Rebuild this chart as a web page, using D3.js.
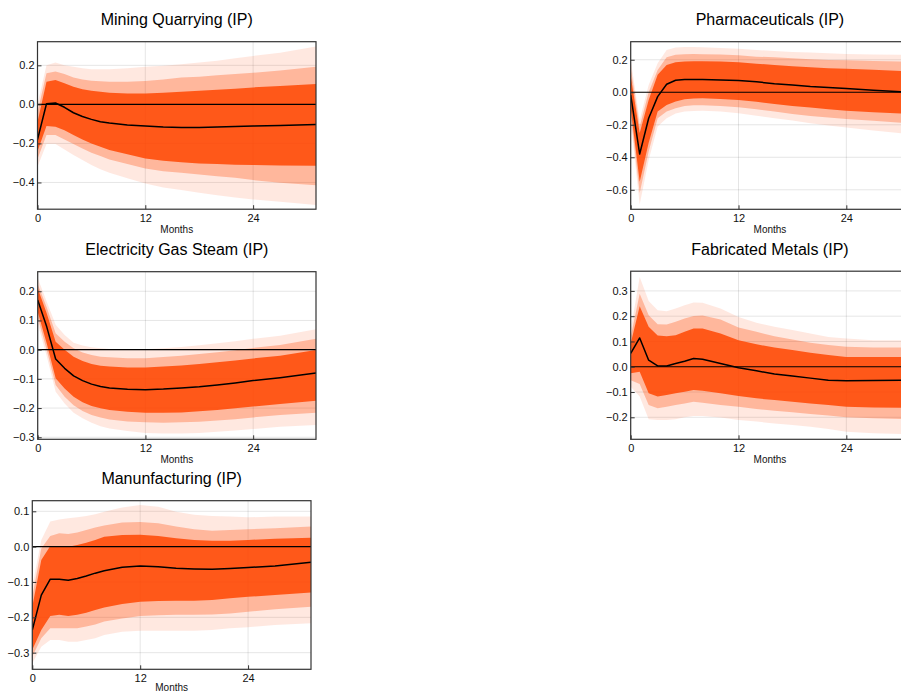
<!DOCTYPE html>
<html>
<head>
<meta charset="utf-8">
<script src="https://cdn.jsdelivr.net/npm/d3@7"></script>
<style>
  html, body { margin: 0; padding: 0; background: #fff; }
  svg { display: block; font-family: "Liberation Sans", Arial, sans-serif; }
</style>
</head>
<body>
<svg id="chart" width="901" height="692"></svg>
<script>
// Impulse responses (months after shock) with three nested credible bands
const months = [0, 1, 2, 3, 4, 5, 6, 7, 8, 10, 12, 14, 16, 18, 20, 22, 24, 27, 31];
const xTicks = [0, 12, 24];

// Mining Quarrying (IP)
const miningMedian  = [-0.18, 0.003, 0.007, -0.015, -0.043, -0.062, -0.077, -0.089, -0.096, -0.106, -0.111, -0.116, -0.118, -0.118, -0.116, -0.114, -0.111, -0.108, -0.103];
const miningInnerHi = [-0.09, 0.116, 0.125, 0.108, 0.090, 0.077, 0.070, 0.064, 0.060, 0.056, 0.056, 0.060, 0.065, 0.070, 0.075, 0.080, 0.087, 0.094, 0.104];
const miningInnerLo = [-0.24, -0.111, -0.115, -0.132, -0.157, -0.180, -0.200, -0.217, -0.234, -0.256, -0.277, -0.289, -0.297, -0.303, -0.306, -0.309, -0.311, -0.313, -0.315];
const miningMidHi   = [-0.04, 0.159, 0.168, 0.156, 0.138, 0.128, 0.121, 0.118, 0.116, 0.116, 0.120, 0.128, 0.137, 0.142, 0.149, 0.156, 0.162, 0.174, 0.193];
const miningMidLo   = [-0.28, -0.157, -0.157, -0.180, -0.203, -0.226, -0.248, -0.265, -0.282, -0.306, -0.328, -0.342, -0.350, -0.359, -0.368, -0.376, -0.388, -0.402, -0.414];
const miningOuterHi = [0.00, 0.200, 0.214, 0.200, 0.193, 0.185, 0.180, 0.180, 0.180, 0.185, 0.193, 0.198, 0.205, 0.214, 0.224, 0.236, 0.248, 0.265, 0.296];
const miningOuterLo = [-0.32, -0.203, -0.203, -0.231, -0.260, -0.285, -0.311, -0.332, -0.350, -0.379, -0.405, -0.426, -0.439, -0.453, -0.465, -0.477, -0.487, -0.499, -0.516];
const miningYTicks  = [-0.4, -0.2, 0.0, 0.2];

// Pharmaceuticals (IP)
const pharmaMedian  = [-0.016, -0.38, -0.16, -0.027, 0.049, 0.074, 0.078, 0.078, 0.078, 0.076, 0.072, 0.064, 0.053, 0.045, 0.035, 0.029, 0.023, 0.012, 0.000];
const pharmaInnerHi = [0.10, -0.25, -0.047, 0.107, 0.168, 0.185, 0.189, 0.191, 0.191, 0.189, 0.185, 0.176, 0.168, 0.160, 0.154, 0.148, 0.144, 0.138, 0.129];
const pharmaInnerLo = [-0.10, -0.55, -0.31, -0.119, -0.078, -0.057, -0.043, -0.039, -0.037, -0.041, -0.047, -0.059, -0.072, -0.084, -0.094, -0.105, -0.113, -0.123, -0.133];
const pharmaMidHi   = [0.15, -0.21, 0.000, 0.137, 0.215, 0.230, 0.234, 0.236, 0.234, 0.232, 0.228, 0.219, 0.215, 0.209, 0.203, 0.199, 0.197, 0.193, 0.189];
const pharmaMidLo   = [-0.14, -0.62, -0.365, -0.160, -0.119, -0.098, -0.084, -0.080, -0.080, -0.084, -0.092, -0.105, -0.119, -0.133, -0.146, -0.156, -0.164, -0.176, -0.191];
const pharmaOuterHi = [0.20, -0.17, 0.045, 0.178, 0.260, 0.275, 0.279, 0.279, 0.277, 0.273, 0.267, 0.260, 0.254, 0.248, 0.244, 0.240, 0.236, 0.232, 0.230];
const pharmaOuterLo = [-0.18, -0.69, -0.416, -0.211, -0.160, -0.130, -0.119, -0.115, -0.113, -0.119, -0.129, -0.144, -0.160, -0.174, -0.191, -0.205, -0.217, -0.236, -0.256];
const pharmaYTicks  = [-0.6, -0.4, -0.2, 0.0, 0.2];

// Electricity Gas Steam (IP)
const electricMedian  = [0.170, 0.079, -0.032, -0.064, -0.090, -0.106, -0.118, -0.126, -0.131, -0.136, -0.137, -0.135, -0.131, -0.127, -0.121, -0.114, -0.106, -0.096, -0.080];
const electricInnerHi = [0.210, 0.125, 0.027, 0.000, -0.024, -0.039, -0.049, -0.055, -0.058, -0.061, -0.061, -0.058, -0.054, -0.049, -0.043, -0.037, -0.030, -0.021, -0.001];
const electricInnerLo = [0.130, 0.022, -0.098, -0.133, -0.161, -0.180, -0.193, -0.201, -0.207, -0.213, -0.216, -0.216, -0.215, -0.211, -0.207, -0.201, -0.195, -0.186, -0.175];
const electricMidHi   = [0.225, 0.145, 0.056, 0.027, 0.005, -0.010, -0.018, -0.024, -0.026, -0.029, -0.029, -0.025, -0.021, -0.015, -0.009, -0.002, 0.006, 0.016, 0.037];
const electricMidLo   = [0.110, 0.000, -0.121, -0.161, -0.190, -0.210, -0.224, -0.232, -0.239, -0.246, -0.249, -0.250, -0.249, -0.247, -0.243, -0.238, -0.232, -0.224, -0.216];
const electricOuterHi = [0.245, 0.165, 0.085, 0.050, 0.024, 0.014, 0.008, 0.005, 0.002, 0.001, 0.001, 0.005, 0.009, 0.015, 0.022, 0.029, 0.037, 0.048, 0.070];
const electricOuterLo = [0.090, -0.022, -0.144, -0.184, -0.216, -0.235, -0.250, -0.262, -0.270, -0.279, -0.285, -0.287, -0.287, -0.285, -0.281, -0.277, -0.272, -0.264, -0.258];
const electricYTicks  = [-0.3, -0.2, -0.1, 0.0, 0.1, 0.2];

// Fabricated Metals (IP)
const metalsMedian  = [0.053, 0.114, 0.026, 0.003, 0.003, 0.013, 0.022, 0.033, 0.030, 0.013, -0.004, -0.016, -0.029, -0.037, -0.045, -0.053, -0.055, -0.054, -0.053];
const metalsInnerHi = [0.092, 0.239, 0.158, 0.124, 0.121, 0.125, 0.138, 0.151, 0.151, 0.132, 0.105, 0.089, 0.076, 0.066, 0.055, 0.046, 0.039, 0.039, 0.039];
const metalsInnerLo = [-0.026, -0.020, -0.105, -0.118, -0.112, -0.105, -0.099, -0.092, -0.095, -0.105, -0.116, -0.125, -0.132, -0.138, -0.145, -0.151, -0.158, -0.161, -0.162];
const metalsMidHi   = [0.118, 0.289, 0.204, 0.168, 0.167, 0.178, 0.191, 0.201, 0.203, 0.187, 0.155, 0.138, 0.121, 0.108, 0.095, 0.086, 0.079, 0.076, 0.076];
const metalsMidLo   = [-0.053, -0.068, -0.151, -0.164, -0.158, -0.151, -0.145, -0.138, -0.142, -0.151, -0.158, -0.167, -0.174, -0.180, -0.187, -0.193, -0.200, -0.204, -0.207];
const metalsOuterHi = [0.145, 0.355, 0.260, 0.224, 0.220, 0.230, 0.243, 0.254, 0.253, 0.230, 0.197, 0.174, 0.158, 0.145, 0.132, 0.118, 0.112, 0.105, 0.105];
const metalsOuterLo = [-0.079, -0.118, -0.208, -0.211, -0.211, -0.208, -0.200, -0.195, -0.195, -0.201, -0.211, -0.217, -0.224, -0.230, -0.237, -0.246, -0.257, -0.263, -0.267];
const metalsYTicks  = [-0.2, -0.1, 0.0, 0.1, 0.2, 0.3];

// Manunfacturing (IP)
const manufMedian  = [-0.236, -0.137, -0.092, -0.092, -0.095, -0.090, -0.083, -0.075, -0.068, -0.058, -0.055, -0.057, -0.061, -0.063, -0.064, -0.062, -0.059, -0.055, -0.044];
const manufInnerHi = [-0.170, -0.038, 0.002, 0.002, 0.000, 0.005, 0.011, 0.019, 0.028, 0.033, 0.034, 0.030, 0.024, 0.019, 0.017, 0.017, 0.019, 0.022, 0.025];
const manufInnerLo = [-0.292, -0.236, -0.196, -0.193, -0.196, -0.193, -0.187, -0.179, -0.172, -0.162, -0.156, -0.154, -0.153, -0.153, -0.151, -0.146, -0.142, -0.137, -0.130];
const manufMidHi   = [-0.142, -0.005, 0.030, 0.038, 0.036, 0.040, 0.047, 0.054, 0.060, 0.068, 0.070, 0.066, 0.057, 0.049, 0.045, 0.047, 0.049, 0.052, 0.057];
const manufMidLo   = [-0.311, -0.259, -0.231, -0.231, -0.231, -0.231, -0.226, -0.220, -0.212, -0.203, -0.196, -0.194, -0.193, -0.193, -0.192, -0.189, -0.184, -0.177, -0.170];
const manufOuterHi = [-0.113, 0.019, 0.071, 0.077, 0.080, 0.083, 0.087, 0.092, 0.099, 0.111, 0.118, 0.113, 0.099, 0.090, 0.087, 0.085, 0.083, 0.085, 0.085];
const manufOuterLo = [-0.330, -0.283, -0.264, -0.264, -0.269, -0.269, -0.264, -0.259, -0.250, -0.241, -0.238, -0.238, -0.238, -0.238, -0.236, -0.231, -0.228, -0.222, -0.217];
const manufYTicks  = [-0.3, -0.2, -0.1, 0.0, 0.1];

// Panel placement (plot-area boxes in pixels) and vertical extents
const panels = [
  { title: "Mining Quarrying (IP)", box: [37.5, 41.7, 316, 209.2], yDomain: [-0.537, 0.321], yTicks: miningYTicks,
    median: miningMedian, bands: [[miningOuterLo, miningOuterHi], [miningMidLo, miningMidHi], [miningInnerLo, miningInnerHi]] },
  { title: "Pharmaceuticals (IP)", box: [630.7, 41.7, 909.2, 209.3], yDomain: [-0.72, 0.311], yTicks: pharmaYTicks,
    median: pharmaMedian, bands: [[pharmaOuterLo, pharmaOuterHi], [pharmaMidLo, pharmaMidHi], [pharmaInnerLo, pharmaInnerHi]] },
  { title: "Electricity Gas Steam (IP)", box: [37.7, 271.7, 316, 439.3], yDomain: [-0.307, 0.267], yTicks: electricYTicks,
    median: electricMedian, bands: [[electricOuterLo, electricOuterHi], [electricMidLo, electricMidHi], [electricInnerLo, electricInnerHi]] },
  { title: "Fabricated Metals (IP)", box: [630.7, 271.2, 909.2, 439.3], yDomain: [-0.287, 0.378], yTicks: metalsYTicks,
    median: metalsMedian, bands: [[metalsOuterLo, metalsOuterHi], [metalsMidLo, metalsMidHi], [metalsInnerLo, metalsInnerHi]] },
  { title: "Manunfacturing (IP)", box: [32.3, 500.7, 311, 669.3], yDomain: [-0.347, 0.130], yTicks: manufYTicks,
    median: manufMedian, bands: [[manufOuterLo, manufOuterHi], [manufMidLo, manufMidHi], [manufInnerLo, manufInnerHi]] }
];

const bandColor = "rgb(255,69,0)";
const bandAlpha = [0.12, 0.3, 0.84];
const fmt = d3.format(".1f");

const svg = d3.select("#chart");
svg.append("rect").attr("width", 901).attr("height", 692).attr("fill", "#fff");

panels.forEach((p, i) => {
  const [x0, y0, x1, y1] = p.box;
  const x = d3.scaleLinear().domain([0, 31]).range([x0, x1]);
  const y = d3.scaleLinear().domain(p.yDomain).range([y1, y0]);
  const g = svg.append("g");

  const clipId = "clip" + i;
  g.append("clipPath").attr("id", clipId)
    .append("rect").attr("x", x0).attr("y", y0).attr("width", x1 - x0).attr("height", y1 - y0);

  // grid
  const grid = g.append("g").attr("stroke", "#000").attr("stroke-opacity", 0.1).attr("stroke-width", 1);
  xTicks.forEach(t => grid.append("line").attr("x1", x(t)).attr("x2", x(t)).attr("y1", y0).attr("y2", y1));
  p.yTicks.forEach(t => grid.append("line").attr("x1", x0).attr("x2", x1).attr("y1", y(t)).attr("y2", y(t)));

  const plot = g.append("g").attr("clip-path", `url(#${clipId})`);

  // credible bands, widest first
  p.bands.forEach(([lo, hi], k) => {
    const area = d3.area()
      .x((d, j) => x(months[j]))
      .y0((d, j) => y(lo[j]))
      .y1((d, j) => y(hi[j]));
    plot.append("path").datum(lo).attr("d", area)
      .attr("fill", bandColor).attr("fill-opacity", bandAlpha[k]);
  });

  // zero reference
  plot.append("line").attr("x1", x0).attr("x2", x1).attr("y1", y(0)).attr("y2", y(0))
    .attr("stroke", "#000").attr("stroke-width", 1.2);

  // median response
  const line = d3.line().x((d, j) => x(months[j])).y(d => y(d));
  plot.append("path").datum(p.median).attr("d", line)
    .attr("fill", "none").attr("stroke", "#000").attr("stroke-width", 1.5).attr("stroke-linejoin", "round");

  // frame
  g.append("rect").attr("x", x0).attr("y", y0).attr("width", x1 - x0).attr("height", y1 - y0)
    .attr("fill", "none").attr("stroke", "#333").attr("stroke-width", 1.2);

  // axes (ticks point inward)
  const xAxis = d3.axisBottom(x).tickValues(xTicks).tickSizeInner(-4).tickSizeOuter(0).tickPadding(5).tickFormat(d3.format("d"));
  const gx = g.append("g").attr("transform", `translate(0,${y1})`).call(xAxis);
  const yAxis = d3.axisLeft(y).tickValues(p.yTicks).tickSizeInner(-4).tickSizeOuter(0).tickPadding(3).tickFormat(fmt);
  const gy = g.append("g").attr("transform", `translate(${x0},0)`).call(yAxis);
  [gx, gy].forEach(ax => {
    ax.select(".domain").remove();
    ax.selectAll(".tick line").attr("stroke", "#333").attr("stroke-width", 1);
    ax.selectAll(".tick text").attr("fill", "#111").style("font-size", "11px")
      .style("font-family", '"Liberation Sans", Arial, sans-serif');
  });

  // axis label
  g.append("text").attr("x", (x0 + x1) / 2).attr("y", Math.min(y1 + 24, 691))
    .attr("text-anchor", "middle").attr("fill", "#111").style("font-size", "10px")
    .text("Months");

  // title
  g.append("text").attr("x", (x0 + x1) / 2).attr("y", y0 - 16.7)
    .attr("text-anchor", "middle").attr("fill", "#000").style("font-size", "16px")
    .text(p.title);
});
</script>
</body>
</html>
